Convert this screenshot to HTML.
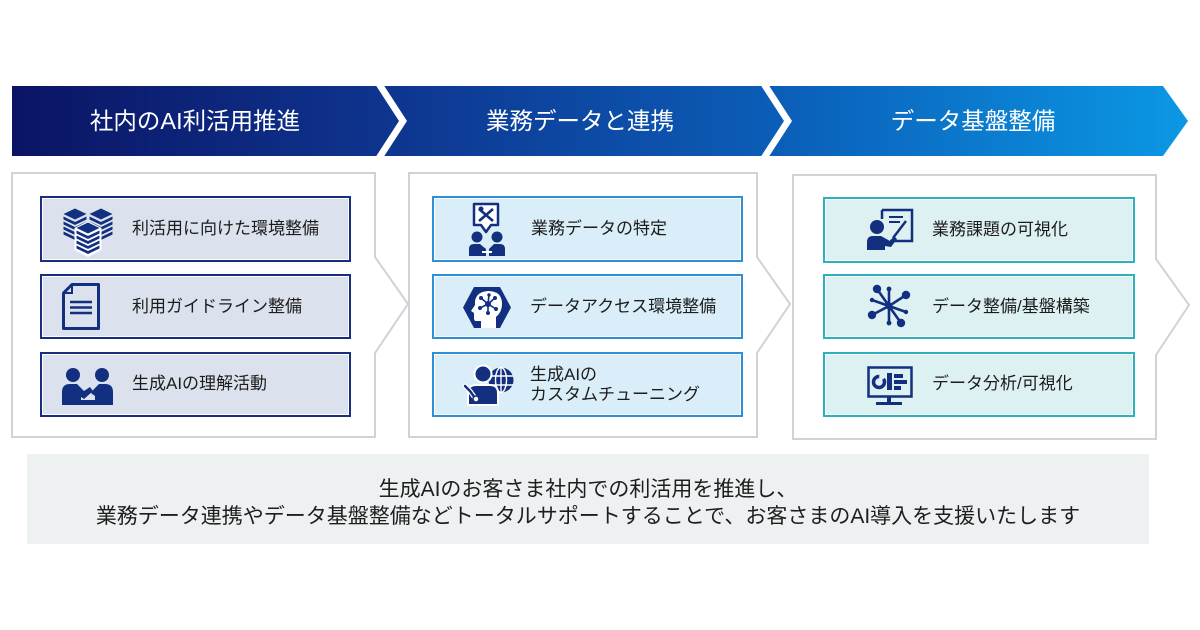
<!DOCTYPE html>
<html><head><meta charset="utf-8">
<style>
html,body{margin:0;padding:0;background:#fff;}
#c{position:relative;width:1200px;height:630px;overflow:hidden;font-family:"Liberation Sans","Noto Sans CJK JP",sans-serif;}
.t{position:absolute;white-space:nowrap;color:#1c1c1c;font-size:17px;line-height:20px;}
.h{position:absolute;white-space:nowrap;color:#fff;font-size:23.5px;line-height:30px;top:106px;width:400px;margin-left:-200px;text-align:center;}
.b{position:absolute;left:27px;width:1122px;top:476px;text-align:center;color:#1e1e1e;font-size:21px;line-height:27px;white-space:nowrap;}
</style></head><body><div id="c">
<svg width="1200" height="630" style="position:absolute;left:0;top:0">
<defs>
<linearGradient id="g" x1="12" y1="0" x2="1188" y2="0" gradientUnits="userSpaceOnUse">
<stop offset="0" stop-color="#0b1464"/><stop offset="0.33" stop-color="#0e3690"/><stop offset="0.66" stop-color="#0b5fb9"/><stop offset="1" stop-color="#0b98e4"/>
</linearGradient>
<g id="stk">
<path d="M-11.5,0 L0,-5.5 L11.5,0 L0,5.5Z"/>
<path d="M-11.5,2.5 L0,8 L11.5,2.5 L11.5,5.5 L0,11 L-11.5,5.5Z"/>
<path d="M-11.5,7.5 L0,13 L11.5,7.5 L11.5,10.5 L0,16 L-11.5,10.5Z"/>
<path d="M-11.5,12.5 L0,18 L11.5,12.5 L11.5,15.5 L0,21 L-11.5,15.5Z"/>
<path d="M-11.5,17.5 L0,23 L11.5,17.5 L11.5,20.5 L0,26 L-11.5,20.5Z"/>
</g>
</defs>
<!-- banner -->
<polygon points="12,86 1163,86 1188,121 1163,156 12,156" fill="url(#g)"/>
<polygon points="375,84 383,84 407,121 383,158 375,158 399,121" fill="#fff"/>
<polygon points="760,84 768,84 792,121 768,158 760,158 784,121" fill="#fff"/>
<!-- panels -->
<path d="M12,173 H375 V257 L408,304 L375,353 V437 H12 Z" fill="#fff" stroke="#cfd3d8" stroke-width="2"/>
<path d="M409,173 H757 V257 L790,304 L757,353 V437 H409 Z" fill="#fff" stroke="#cfd3d8" stroke-width="2"/>
<path d="M793,175 H1156 V259 L1189,305 L1156,355 V439 H793 Z" fill="#fff" stroke="#cfd3d8" stroke-width="2"/>
<!-- items panel 1 -->
<g fill="#dbe1ed" stroke="#1a2e80" stroke-width="2">
<rect x="41" y="197" width="309" height="64"/>
<rect x="41" y="275" width="309" height="63"/>
<rect x="41" y="353" width="309" height="63"/>
</g>
<g fill="#daeef9" stroke="#2d8fd5" stroke-width="2">
<rect x="433" y="197" width="309" height="64"/>
<rect x="433" y="275" width="309" height="63"/>
<rect x="433" y="353" width="309" height="63"/>
</g>
<g fill="#ddf0f2" stroke="#2ab2bd" stroke-width="2">
<rect x="824" y="198" width="310" height="64"/>
<rect x="824" y="275" width="310" height="63"/>
<rect x="824" y="353" width="310" height="63"/>
</g>
<g fill="none" stroke="#fff" stroke-width="1">
<rect x="42.5" y="198.5" width="306" height="61"/>
<rect x="42.5" y="276.5" width="306" height="60"/>
<rect x="42.5" y="354.5" width="306" height="60"/>
<rect x="434.5" y="198.5" width="306" height="61"/>
<rect x="434.5" y="276.5" width="306" height="60"/>
<rect x="434.5" y="354.5" width="306" height="60"/>
<rect x="825.5" y="199.5" width="307" height="61"/>
<rect x="825.5" y="276.5" width="307" height="60"/>
<rect x="825.5" y="354.5" width="307" height="60"/>
</g>
<!-- bottom box -->
<rect x="27" y="454" width="1122" height="90" fill="#eef1f2"/>

<!-- ICONS -->
<g fill="#12307f">
<!-- P1-1 databases -->
<use href="#stk" x="75" y="214"/>
<use href="#stk" x="101" y="214"/>
<polygon points="74.5,228 88,221 101.5,228 101.5,250 88,257 74.5,250" fill="#fff"/>
<use href="#stk" x="88" y="228"/>
</g>
<!-- P1-2 document -->
<g stroke="#12307f" fill="none" stroke-width="3">
<path d="M72,284.5 H98.5 V328.5 H63.5 V293 Z" stroke-linejoin="round"/>
<path d="M72,284.5 V293 H63.5" stroke-width="2"/>
<path d="M70,302 H92 M70,307.5 H92 M70,313 H92" stroke-width="2.6"/>
</g>
<!-- P1-3 meeting people -->
<g fill="#12307f">
<circle cx="73" cy="375" r="7"/>
<circle cx="102" cy="375" r="7"/>
<path d="M62,405 V392 Q62,384 70,384 H77 L84,391 L90,387 L93,391 L84,399 L81,397 V405 Z"/>
<path d="M113,405 V392 Q113,384 105,384 H99 L94,389 L91,393 L95,396 L95,405 Z"/>
<rect x="80" y="400" width="15" height="5"/>
</g>
<!-- P2-1 bubble + people -->
<g>
<path d="M474,204 H498 V225 H491 L486,232 L481,225 H474 Z" fill="#fff" stroke="#12307f" stroke-width="2.5" stroke-linejoin="round"/>
<path d="M479,209 L493,221 M493,209 L479,221" stroke="#12307f" stroke-width="2.6"/>
<circle cx="481" cy="209" r="2.5" fill="#12307f"/>
<g fill="#12307f">
<circle cx="477" cy="237" r="5.5"/>
<circle cx="497" cy="237" r="5.5"/>
<path d="M469,256 V249 Q469,244 474,244 H480 L486,249 V256 Z"/>
<path d="M505,256 V249 Q505,244 500,244 H494 L489,249 V256 Z"/>
</g>
<rect x="482" y="251" width="10" height="2" fill="#fff"/>
</g>
<!-- P2-2 hexagon head -->
<g>
<polygon points="463,307.5 474,287 500,287 511,307.5 500,328 474,328" fill="#12307f"/>
<path d="M481,328 V321 H476 Q474,321 474,318 V313 L471,311 L475,305 Q474,292 488,291 Q502,291 502,304 Q502,312 496,317 V328 Z" fill="#fff"/>
<g stroke="#12307f" stroke-width="1.6">
<path d="M488,304 L481,298 M488,304 L495,298 M488,304 L480,308 M488,304 L496,309 M488,304 L488,313 M488,304 L489,295"/>
</g>
<g fill="#12307f">
<circle cx="488" cy="304" r="3"/>
<circle cx="481" cy="298" r="2"/><circle cx="495" cy="298" r="2"/><circle cx="480" cy="308" r="2"/><circle cx="496" cy="309" r="2"/><circle cx="488" cy="313" r="2"/><circle cx="489" cy="295" r="1.7"/>
</g>
</g>
<!-- P2-3 person globe wrench -->
<g>
<circle cx="501" cy="380" r="12.5" fill="#12307f"/>
<g fill="none" stroke="#fff" stroke-width="1.4">
<ellipse cx="501" cy="380" rx="5.5" ry="12.5"/>
<path d="M489,376 H513 M489,385 H513 M501,367.5 V392.5"/>
</g>
<circle cx="483" cy="374" r="8.5" fill="#12307f" stroke="#fff" stroke-width="2"/>
<path d="M468,405 V393 Q468,385 476,385 H490 Q498,385 498,393 V405 Z" fill="#12307f" stroke="#fff" stroke-width="2"/>
<path d="M465,386 L470,391 L475,398" stroke="#fff" stroke-width="5" fill="none" stroke-linecap="round"/>
<path d="M465,386 L470,391 L475,398" stroke="#12307f" stroke-width="2.5" fill="none" stroke-linecap="round"/>
<circle cx="476" cy="399" r="3" fill="#fff" stroke="#12307f" stroke-width="1.5"/>
</g>
<!-- P3-1 presenter -->
<g>
<path d="M882,210 H912 V241 H890" fill="none" stroke="#12307f" stroke-width="2.5"/>
<path d="M882,210 V219" stroke="#12307f" stroke-width="2.5"/>
<path d="M889,217 H903 M889,222 H900" stroke="#12307f" stroke-width="2"/>
<path d="M893,238 L906,221" stroke="#12307f" stroke-width="2.5"/>
<circle cx="877" cy="227" r="7" fill="#12307f"/>
<path d="M867,250 V242 Q867,236 873,236 H881 L890,241 L894,236 L897,239 L891,247 L885,246 V250 Z" fill="#12307f"/>
</g>
<!-- P3-2 network star -->
<g stroke="#12307f" stroke-width="2.6" stroke-linecap="round">
<path d="M889,306 L877,289 M889,306 L906,295 M889,306 L872,315 M889,306 L901,323 M889,306 L889,289 M889,306 L889,323 M889,306 L872,300 M889,306 L906,312"/>
</g>
<g fill="#12307f">
<circle cx="889" cy="306" r="3.5"/>
<circle cx="877" cy="289" r="4.2"/><circle cx="906" cy="295" r="4.2"/><circle cx="872" cy="315" r="4.2"/><circle cx="901" cy="323" r="4.2"/>
<circle cx="889" cy="289" r="2.4"/><circle cx="889" cy="323" r="2.4"/><circle cx="872" cy="300" r="2.2"/><circle cx="906" cy="312" r="2.2"/>
</g>
<!-- P3-3 monitor -->
<g>
<rect x="868.5" y="367.5" width="43" height="29" fill="none" stroke="#12307f" stroke-width="2.5"/>
<rect x="887" y="397" width="4" height="5" fill="#12307f"/>
<rect x="876" y="402" width="26" height="3" fill="#12307f"/>
<circle cx="879" cy="382" r="5.5" fill="none" stroke="#12307f" stroke-width="3.5" stroke-dasharray="26 5"/>
<rect x="887" y="373" width="5" height="17" fill="#12307f"/>
<rect x="894" y="374" width="9" height="4" fill="#12307f"/>
<rect x="894" y="380" width="13" height="4" fill="#12307f"/>
<rect x="894" y="386" width="7" height="4" fill="#12307f"/>
</g>
</svg>

<div class="h" style="left:195px">社内のAI利活用推進</div>
<div class="h" style="left:580px">業務データと連携</div>
<div class="h" style="left:973px">データ基盤整備</div>

<div class="t" style="left:132px;top:219px">利活用に向けた環境整備</div>
<div class="t" style="left:132px;top:297px">利用ガイドライン整備</div>
<div class="t" style="left:132px;top:374px">生成AIの理解活動</div>

<div class="t" style="left:531px;top:219px">業務データの特定</div>
<div class="t" style="left:530px;top:297px">データアクセス環境整備</div>
<div class="t" style="left:530px;top:365px">生成AIの<br>カスタムチューニング</div>

<div class="t" style="left:932px;top:220px">業務課題の可視化</div>
<div class="t" style="left:932px;top:297px">データ整備/基盤構築</div>
<div class="t" style="left:932px;top:374px">データ分析/可視化</div>

<div class="b">生成AIのお客さま社内での利活用を推進し、<br>業務データ連携やデータ基盤整備などトータルサポートすることで、お客さまのAI導入を支援いたします</div>
</div></body></html>
